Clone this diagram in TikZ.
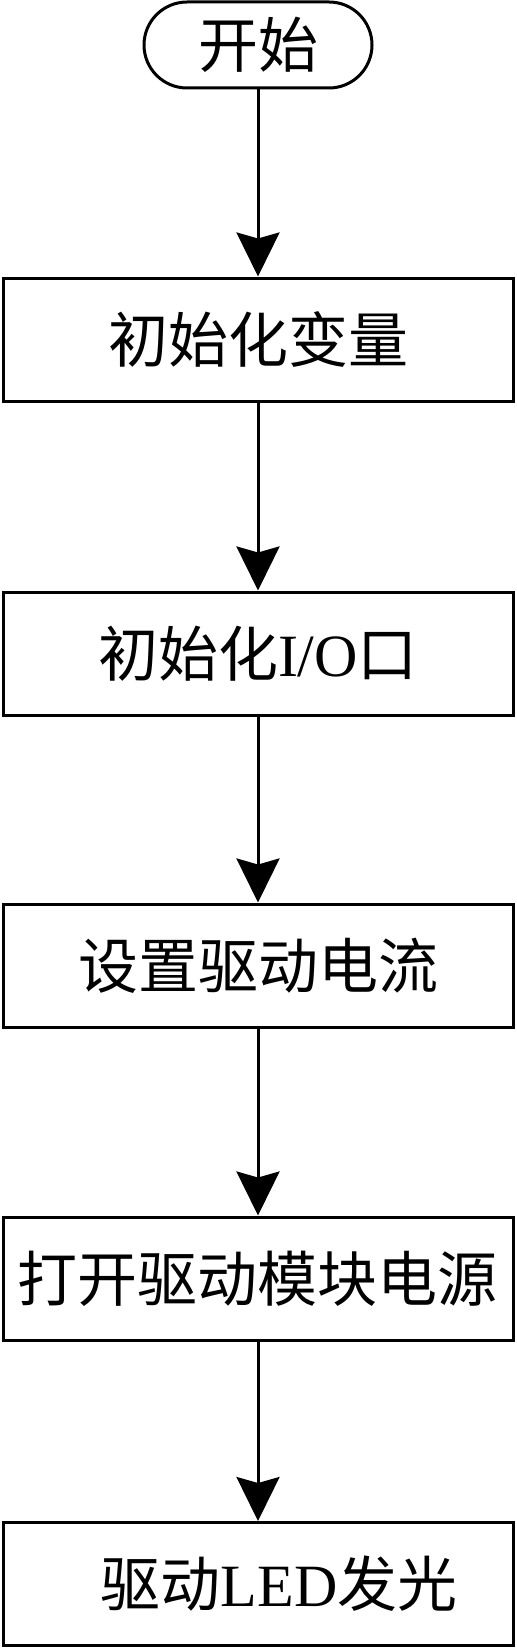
\documentclass[tikz,border=0pt]{standalone}
\usepackage{fontspec}
\setmainfont{Noto Sans CJK SC}
\newfontfamily\latin{Liberation Serif}
\usetikzlibrary{arrows.meta}

\tikzset{
  stepbox/.style={draw, line width=1.5pt, minimum width=255pt, minimum height=61.5pt,
    inner sep=0pt, font=\fontsize{30pt}{36pt}\selectfont},
  startbox/.style={stepbox, rounded corners=21.5pt, minimum width=114pt, minimum height=43pt},
  flow/.style={-{Stealth[length=22pt,width=21.5pt,inset=3pt]}, line width=1.5pt}
}

\begin{document}
\begin{tikzpicture}[x=0.5pt,y=-0.5pt]
    \useasboundingbox (0,0) rectangle (516,1648);

    \node[startbox] (start) at (258,45) {开始};
    \node[stepbox] (initvar) at (258,339.5) {初始化变量};
    \node[stepbox] (initio) at (258,653.5) {初始化{\latin I/O}口};
    \node[stepbox] (setcur) at (258,965.5) {设置驱动电流};
    \node[stepbox] (power) at (258,1278.5) {打开驱动模块电源};
    \node[stepbox] (led) at (258,1584) {\hspace*{21pt}驱动{\latin LED}发光};

    \foreach \a/\b in {start/initvar, initvar/initio, initio/setcur, setcur/power, power/led}
        \draw[flow] (\a) -- (\b);
\end{tikzpicture}
\end{document}
